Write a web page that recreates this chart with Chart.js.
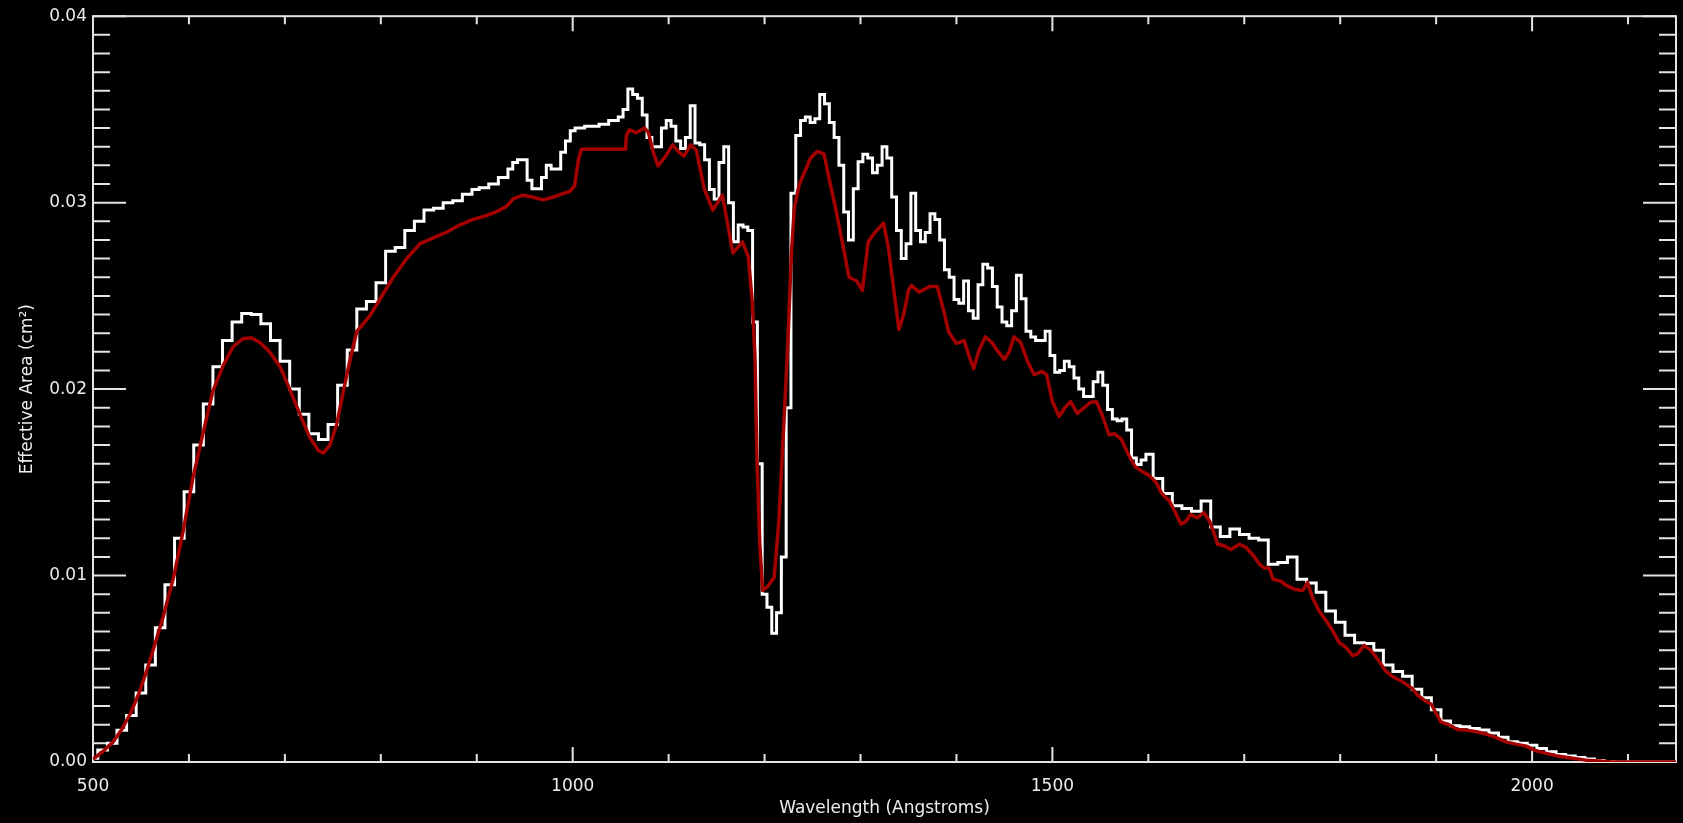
<!DOCTYPE html>
<html>
<head>
<meta charset="utf-8">
<title>Effective Area</title>
<script src="https://cdn.jsdelivr.net/npm/chart.js@4/dist/chart.umd.min.js"></script>
<style>
  html, body { margin: 0; padding: 0; background: #000; }
  canvas { display: block; }
</style>
</head>
<body>
<canvas id="areaChart" width="1683" height="823"></canvas>
<script>
// ================================================
//  Effective area vs wavelength (IDL-style plot)
// ================================================

const X_MIN = 500;
const X_MAX = 2150;
const Y_MIN = 0;
const Y_MAX = 0.04;

const xTickValues = [500, 1000, 1500, 2000];
const yTickValues = [0, 0.01, 0.02, 0.03, 0.04];

//  WHITE HISTOGRAM  (10 Å bins, then 5 Å, then 10 Å again)

const whiteWaveShort = grid(500, 900, 10);
const whiteAreaShort = [
  0.2, 0.64, 1.0, 1.7, 2.5, 3.7, 5.2, 7.2, 9.5, 12.0,
  14.5, 17.0, 19.2, 21.2, 22.6, 23.6, 24.05, 24.0, 23.5, 22.6,
  21.5, 20.0, 18.65, 17.6, 17.3, 18.1, 20.2, 22.1, 24.3, 24.7,
  25.7, 27.4, 27.6, 28.5, 29.0, 29.6, 29.7, 30.0, 30.1, 30.45,
  30.7,
];

const whiteWaveMid = grid(905, 1600, 5);
const whiteAreaMid = [
  30.8, 30.8, 31.0, 31.0, 31.35, 31.35, 31.8, 32.15, 32.3, 32.3,
  31.2, 30.75, 30.75, 31.35, 32.0, 31.8, 31.8, 32.7, 33.3, 33.85,
  34.0, 34.0, 34.1, 34.1, 34.1, 34.2, 34.2, 34.4, 34.4, 34.6,
  35.0, 36.1, 35.8, 35.6, 34.7, 33.5, 33.0, 33.0, 34.0, 34.4,
  34.1, 33.3, 32.9, 33.5, 35.2, 33.2, 33.1, 32.3, 30.7, 30.2,
  32.15, 33.0, 30.0, 27.9, 28.8, 28.7, 28.5, 23.6, 16.0, 9.0,
  8.3, 6.9, 8.0, 11.0, 19.0, 30.5, 33.6, 34.4, 34.6, 34.3,
  34.5, 35.8, 35.3, 34.3, 33.5, 32.0, 29.5, 28.0, 30.75, 32.2,
  32.6, 32.4, 31.6, 32.0, 33.0, 32.4, 30.3, 28.5, 27.0, 27.8,
  30.5, 28.5, 27.9, 28.4, 29.4, 29.1, 28.0, 26.4, 26.0, 24.8,
  24.6, 25.8, 24.2, 23.8, 25.6, 26.7, 26.5, 25.5, 24.4, 23.6,
  23.4, 24.2, 26.1, 24.85, 23.1, 22.8, 22.6, 22.6, 23.1, 21.8,
  20.9, 21.0, 21.5, 21.2, 20.6, 20.0, 19.6, 19.6, 20.4, 20.9,
  20.2, 18.9, 18.4, 18.3, 18.4, 17.8, 16.3, 15.95, 16.2, 16.5,
];

const whiteWaveLong = grid(1610, 2150, 10);
const whiteAreaLong = [
  15.2, 14.4, 13.75, 13.6, 13.45, 14.0, 12.6, 12.1, 12.5, 12.2,
  12.0, 11.9, 10.6, 10.7, 11.0, 9.8, 9.6, 9.1, 8.1, 7.5,
  6.8, 6.4, 6.35, 6.0, 5.2, 4.85, 4.6, 3.9, 3.45, 2.8,
  2.2, 1.95, 1.89, 1.8, 1.72, 1.55, 1.33, 1.08, 1.0, 0.9,
  0.72, 0.55, 0.4, 0.32, 0.24, 0.16, 0.08, 0.03, 0, 0,
  0, 0, 0, 0, 0,
];

//  DARK RED CURVE

const redWave = [
  500, 510, 521, 530, 539, 548, 556, 565, 573, 584,
  594, 604, 615, 625, 636, 646, 656, 665, 674, 684,
  695, 705, 716, 726, 735, 740, 747, 754, 761, 768,
  775, 789, 800, 813, 827, 841, 854, 868, 882, 896,
  910, 920, 931, 938, 948, 958, 969, 980, 988, 997,
  1002, 1006, 1009, 1055, 1056, 1059, 1066, 1075, 1079, 1084,
  1089, 1097, 1104, 1111, 1116, 1123, 1129, 1137, 1146, 1156,
  1167, 1177, 1183, 1187, 1190, 1192, 1195, 1198, 1203, 1210,
  1215, 1219, 1224, 1228, 1231, 1236, 1243, 1248, 1255, 1262,
  1267, 1274, 1281, 1288, 1296, 1302, 1308, 1315, 1324, 1329,
  1335, 1340, 1345, 1350, 1353, 1361, 1372, 1380, 1387, 1392,
  1400, 1408, 1413, 1418, 1423, 1430, 1437, 1442, 1450, 1455,
  1460, 1467, 1474, 1481, 1489, 1494, 1500, 1507, 1513, 1519,
  1526, 1533, 1540, 1546, 1552, 1559, 1565, 1572, 1579, 1586,
  1593, 1600, 1608, 1614, 1622, 1629, 1634, 1639, 1644, 1651,
  1658, 1664, 1669, 1672, 1679, 1686, 1695, 1702, 1709, 1716,
  1721, 1726, 1730, 1738, 1743, 1752, 1761, 1766, 1771, 1778,
  1785, 1792, 1799, 1806, 1813, 1818, 1825, 1832, 1840, 1847,
  1854, 1865, 1875, 1881, 1888, 1895, 1900, 1905, 1914, 1922,
  1931, 1942, 1952, 1962, 1973, 1983, 1994, 2004, 2015, 2025,
  2035, 2046, 2056, 2070, 2084, 2150,
];
const redArea = [
  0.15, 0.55, 1.08, 1.75, 2.6, 3.7, 4.9, 6.4, 7.76, 9.9,
  12.4, 15.2, 17.7, 19.9, 21.3, 22.27, 22.7, 22.75, 22.5, 22.0,
  21.2, 20.0, 18.6, 17.4, 16.7, 16.57, 17.0, 18.1, 19.9, 21.6,
  23.1, 23.96, 24.9, 26.0, 27.0, 27.8, 28.1, 28.4, 28.8, 29.1,
  29.3, 29.5, 29.8, 30.2, 30.4, 30.3, 30.15, 30.3, 30.46, 30.6,
  30.9, 32.3, 32.86, 32.86, 33.6, 33.9, 33.75, 34.0, 33.75, 32.7,
  31.97, 32.5, 33.1, 32.7, 32.5, 33.1, 32.8, 30.75, 29.6, 30.4,
  27.3, 27.9, 27.1, 24.8, 21.75, 16.4, 11.7, 9.2, 9.4, 9.9,
  13.0, 17.05, 22.2, 27.3, 29.7, 30.95, 31.8, 32.4, 32.75, 32.6,
  31.36, 29.7, 27.9, 26.0, 25.8, 25.3, 27.9, 28.4, 28.9, 27.6,
  25.2, 23.2, 24.0, 25.3, 25.56, 25.2, 25.5, 25.5, 24.14, 23.05,
  22.45, 22.6, 21.8, 21.1, 22.0, 22.8, 22.5, 22.1, 21.6, 22.0,
  22.8, 22.5, 21.5, 20.77, 20.95, 20.77, 19.33, 18.53, 19.0, 19.33,
  18.7, 19.0, 19.3, 19.33, 18.6, 17.55, 17.6, 17.3, 16.5, 15.85,
  15.6, 15.4, 15.0, 14.4, 14.0, 13.3, 12.75, 12.9, 13.27, 13.1,
  13.37, 12.9, 12.2, 11.68, 11.6, 11.4, 11.68, 11.5, 11.1, 10.6,
  10.4, 10.4, 9.8, 9.7, 9.5, 9.27, 9.2, 9.63, 8.83, 8.1,
  7.6, 7.05, 6.4, 6.15, 5.7, 5.8, 6.25, 5.97, 5.45, 4.9,
  4.6, 4.3, 3.95, 3.57, 3.3, 3.1, 2.6, 2.15, 1.98, 1.74,
  1.71, 1.62, 1.5, 1.32, 1.08, 0.96, 0.85, 0.6, 0.46, 0.34,
  0.25, 0.18, 0.1, 0.05, 0, 0,
];

//  STYLE

const AXIS_COLOR  = '#e4e4e4';
const TEXT_COLOR  = '#ececec';
const WHITE_LINE  = '#ffffff';
const RED_LINE    = '#a40000';
const FONT        = { family: 'DejaVu Sans', size: 17 };

//  HELPERS

function grid(start, end, step) {
  const out = [];
  for (let w = start; w <= end; w += step) out.push(w);
  return out;
}

function toPoints(waves, areas) {
  return waves.map((w, i) => ({ x: w, y: areas[i] * 1e-3 }));
}

//  IDL-style box with inward major/minor ticks on all four sides

const idlFrame = {
  id: 'idlFrame',
  beforeDatasetsDraw(chart) {
    const { ctx, chartArea: a, scales: { x, y } } = chart;
    ctx.save();
    ctx.strokeStyle = AXIS_COLOR;
    ctx.lineWidth   = 2;
    ctx.strokeRect(a.left, a.top, a.right - a.left, a.bottom - a.top);

    ctx.beginPath();
    for (let w = X_MIN; w < X_MAX; w += 100) {
      const px  = x.getPixelForValue(w);
      const len = w % 500 === 0 ? 15 : 8;
      ctx.moveTo(px, a.bottom); ctx.lineTo(px, a.bottom - len);
      ctx.moveTo(px, a.top);    ctx.lineTo(px, a.top + len);
    }
    for (let i = 0; i <= 40; i++) {
      const py  = y.getPixelForValue(i * 0.001);
      const len = i % 10 === 0 ? 33 : 17;
      ctx.moveTo(a.left, py);  ctx.lineTo(a.left + len, py);
      ctx.moveTo(a.right, py); ctx.lineTo(a.right - len, py);
    }
    ctx.stroke();
    ctx.restore();
  },
};

//  CHART

new Chart(document.getElementById('areaChart'), {
  type: 'line',
  data: {
    datasets: [
      {
        label:           'Red',
        data:            toPoints(redWave, redArea),
        borderColor:     RED_LINE,
        borderWidth:     3.5,
        borderJoinStyle: 'round',
        pointRadius:     0,
        tension:         0,
        order:           0,
      },
      {
        label:       'White',
        data:        toPoints(
          [...whiteWaveShort, ...whiteWaveMid, ...whiteWaveLong],
          [...whiteAreaShort, ...whiteAreaMid, ...whiteAreaLong]
        ),
        borderColor: WHITE_LINE,
        borderWidth: 3,
        pointRadius: 0,
        stepped:     'middle',
        order:       1,
      },
    ],
  },
  options: {
    responsive:       false,
    animation:        false,
    devicePixelRatio: 1,
    layout: { padding: { left: 0, right: 7, top: 13, bottom: 0 } },
    plugins: {
      legend:  { display: false },
      tooltip: { enabled: false },
    },
    scales: {
      x: {
        type: 'linear',
        min:  X_MIN,
        max:  X_MAX,
        afterBuildTicks: s => { s.ticks = xTickValues.map(v => ({ value: v })); },
        afterFit:        s => { s.height = 61; },
        grid:   { display: false, drawTicks: false },
        border: { display: false },
        ticks: {
          color:       TEXT_COLOR,
          font:        FONT,
          padding:     14,
          maxRotation: 0,
          callback:    v => String(v),
        },
        title: {
          display: true,
          text:    'Wavelength (Angstroms)',
          color:   TEXT_COLOR,
          font:    FONT,
          padding: { top: 0, bottom: 4 },
        },
      },
      y: {
        min: Y_MIN,
        max: Y_MAX,
        afterBuildTicks: s => { s.ticks = yTickValues.map(v => ({ value: v })); },
        afterFit:        s => { s.width = 93; },
        grid:   { display: false, drawTicks: false },
        border: { display: false },
        ticks: {
          color:    TEXT_COLOR,
          font:     FONT,
          padding:  6,
          callback: v => v.toFixed(2),
        },
        title: {
          display: true,
          text:    'Effective Area (cm²)',
          color:   TEXT_COLOR,
          font:    FONT,
          padding: { top: 17, bottom: 0 },
        },
      },
    },
  },
  plugins: [idlFrame],
});
</script>
</body>
</html>
